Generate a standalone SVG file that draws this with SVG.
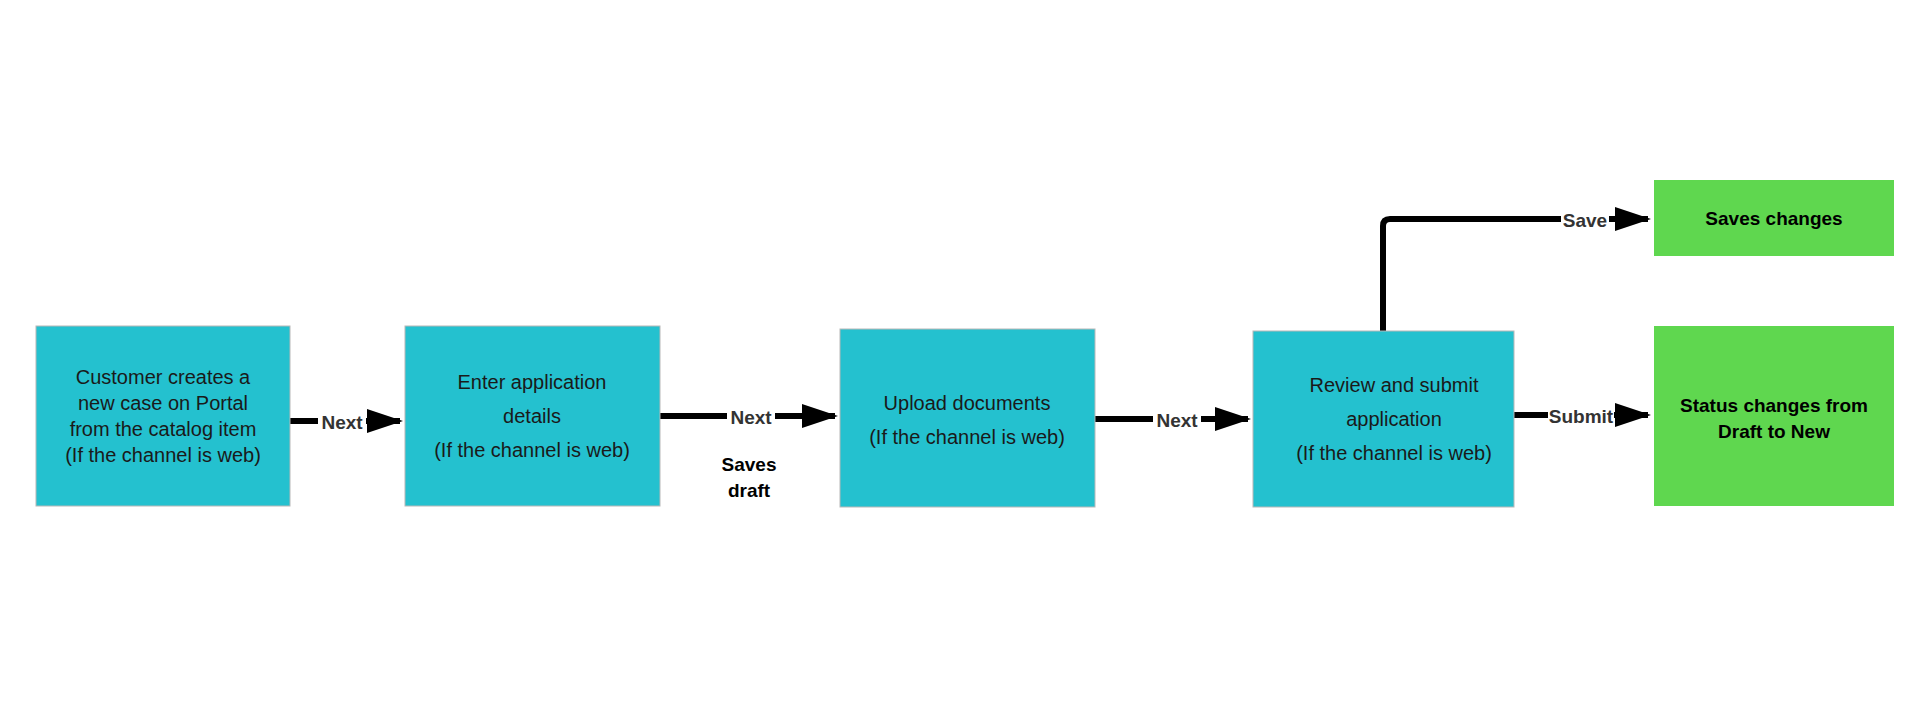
<svg xmlns="http://www.w3.org/2000/svg" width="1920" height="720" viewBox="0 0 1920 720">
<style>
.b{fill:#24c1cf;stroke:#b8b8b8;stroke-width:1}
.g{fill:#5fd74f}
.t{font-family:"Liberation Sans",Arial,sans-serif;font-size:20px;fill:#1a1a1a;text-anchor:middle}
.tg{font-family:"Liberation Sans",Arial,sans-serif;font-size:19px;font-weight:bold;fill:#000;text-anchor:middle}
.c{fill:none;stroke:#000;stroke-width:6;stroke-linejoin:round}
.l{font-family:"Liberation Sans",Arial,sans-serif;font-size:19px;font-weight:bold;fill:#333;text-anchor:middle}
.lb{fill:#fff}
</style>
<defs><marker id="a" markerWidth="6" markerHeight="4" refX="5.5" refY="2" orient="auto" markerUnits="strokeWidth"><path d="M0,0L6,2L0,4z" fill="#000"/></marker></defs>
<rect width="1920" height="720" fill="#fff"/>
<g id="connectors">
<path class="c" d="M290,421H400" marker-end="url(#a)"/>
<path class="c" d="M660,416H835" marker-end="url(#a)"/>
<path class="c" d="M1095,419H1248" marker-end="url(#a)"/>
<path class="c" d="M1514,415H1648" marker-end="url(#a)"/>
<path class="c" d="M1383,331V226Q1383,219 1390,219H1648" marker-end="url(#a)"/>
<rect class="lb" x="318" y="410" width="48" height="22"/><text class="l" x="342" y="429">Next</text>
<rect class="lb" x="727" y="405" width="48" height="22"/><text class="l" x="751" y="424">Next</text>
<text class="tg" x="749" y="471">Saves</text><text class="tg" x="749" y="497">draft</text>
<rect class="lb" x="1153" y="408" width="48" height="22"/><text class="l" x="1177" y="427">Next</text>
<rect class="lb" x="1561" y="208" width="48" height="22"/><text class="l" x="1585" y="227">Save</text>
<rect class="lb" x="1548" y="404" width="66" height="22"/><text class="l" x="1581" y="423">Submit</text>
</g>
<g id="n1"><rect class="b" x="36" y="326" width="254" height="180"/>
<text class="t" x="163" y="384">Customer creates a</text><text class="t" x="163" y="410">new case on Portal</text><text class="t" x="163" y="436">from the catalog item</text><text class="t" x="163" y="462">(If the channel is web)</text></g>
<g id="n2"><rect class="b" x="405" y="326" width="255" height="180"/>
<text class="t" x="532" y="389">Enter application</text><text class="t" x="532" y="423">details</text><text class="t" x="532" y="457">(If the channel is web)</text></g>
<g id="n3"><rect class="b" x="840" y="329" width="255" height="178"/>
<text class="t" x="967" y="410">Upload documents</text><text class="t" x="967" y="444">(If the channel is web)</text></g>
<g id="n4"><rect class="b" x="1253" y="331" width="261" height="176"/>
<text class="t" x="1394" y="392">Review and submit</text><text class="t" x="1394" y="426">application</text><text class="t" x="1394" y="460">(If the channel is web)</text></g>
<g id="n5"><rect class="g" x="1654" y="180" width="240" height="76"/><text class="tg" x="1774" y="225">Saves changes</text></g>
<g id="n6"><rect class="g" x="1654" y="326" width="240" height="180"/><text class="tg" x="1774" y="412">Status changes from</text><text class="tg" x="1774" y="438">Draft to New</text></g>
</svg>
